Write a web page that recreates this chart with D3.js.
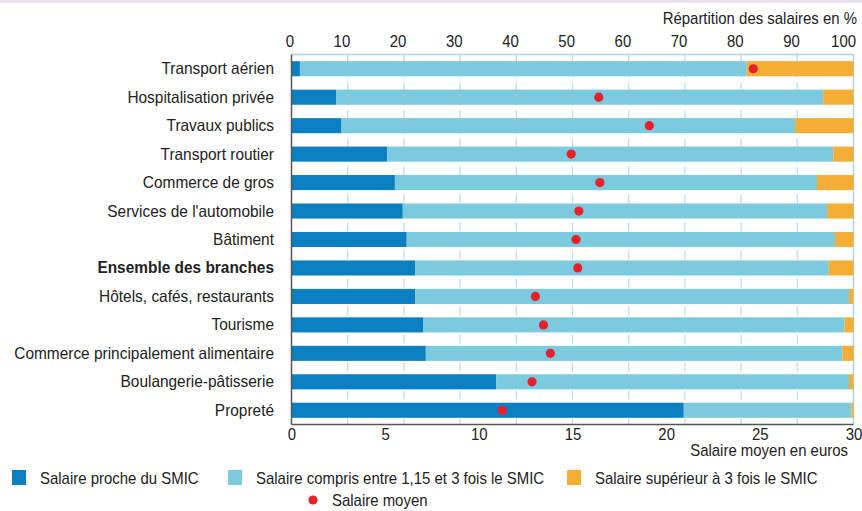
<!DOCTYPE html>
<html><head><meta charset="utf-8">
<script src="https://cdn.jsdelivr.net/npm/d3@7"></script>
<style>
html,body{margin:0;padding:0;background:#fff;}
svg{display:block;font-family:"Liberation Sans",Arial,Helvetica,sans-serif;}
</style></head>
<body><svg id="c" width="862" height="511"></svg>
<script>
const categories = ["Transport aérien","Hospitalisation privée","Travaux publics","Transport routier","Commerce de gros","Services de l'automobile","Bâtiment","Ensemble des branches","Hôtels, cafés, restaurants","Tourisme","Commerce principalement alimentaire","Boulangerie-pâtisserie","Propreté"];
const procheSmic = [1.5, 8.0, 8.9, 17.0, 18.4, 19.8, 20.5, 22.0, 22.0, 23.4, 23.9, 36.4, 69.8];
const entre115et3 = [79.5, 86.6, 80.7, 79.4, 75.1, 75.5, 76.2, 73.6, 77.2, 75.0, 74.1, 62.8, 29.8];
const superieur3 = [19.0, 5.4, 10.4, 3.6, 6.5, 4.7, 3.3, 4.4, 0.8, 1.6, 2.0, 0.8, 0.4];
const salaireMoyen = [24.65, 16.4, 19.1, 14.93, 16.46, 15.34, 15.19, 15.28, 13.02, 13.45, 13.82, 12.84, 11.25];
const pctTicks = [0,10,20,30,40,50,60,70,80,90,100];
const eurTicks = [0,5,10,15,20,25,30];
const seriesNames = ["Salaire proche du SMIC","Salaire compris entre 1,15 et 3 fois le SMIC","Salaire supérieur à 3 fois le SMIC"];
const boldCategory = "Ensemble des branches";

const colors = ["#0a7fc1","#7bcae0","#f4ae35"];
const red = "#e8202a";
const SX = 0.935;

const svg = d3.select("#c");
const L = 291.5, R = 853.5, T = 54.5, B = 424.5;

svg.append("rect").attr("x",0).attr("y",0).attr("width",862).attr("height",3).attr("fill","#e7e1ef");

const x = d3.scaleLinear().domain([0,100]).range([L,R]);
const xe = d3.scaleLinear().domain([0,30]).range([L,R]);
const y = d3.scaleBand().domain(categories).range([T,B]).paddingInner(0.47).paddingOuter(0.235);

// gridlines
svg.append("g").selectAll("line").data(pctTicks.slice(1,-1)).join("line")
  .attr("x1",d=>x(d)).attr("x2",d=>x(d)).attr("y1",T).attr("y2",B)
  .attr("stroke","#b6dbf1").attr("stroke-width",1.2).attr("stroke-dasharray","9,5");

// frame
svg.append("line").attr("x1",L).attr("x2",R).attr("y1",T).attr("y2",T).attr("stroke","#a9d3ef").attr("stroke-width",1.5);
svg.append("line").attr("x1",R).attr("x2",R).attr("y1",T).attr("y2",B).attr("stroke","#a9d3ef").attr("stroke-width",1.5);

// bars
const rows = categories.map((c,i)=>({cat:c, a:procheSmic[i], b:entre115et3[i], c2:superieur3[i]}));
const stack = d3.stack().keys(["a","b","c2"])(rows);
svg.append("g").selectAll("g").data(stack).join("g").attr("fill",(d,i)=>colors[i])
  .selectAll("rect").data(d=>d).join("rect")
  .attr("x",d=>x(d[0])).attr("width",d=>x(d[1])-x(d[0]))
  .attr("y",d=>y(d.data.cat)).attr("height",y.bandwidth());

// dots
svg.append("g").selectAll("circle").data(categories).join("circle")
  .attr("cx",(d,i)=>xe(salaireMoyen[i])).attr("cy",d=>y(d)+y.bandwidth()/2).attr("r",4.6).attr("fill",red);

// axes lines
svg.append("line").attr("x1",L).attr("x2",L).attr("y1",T).attr("y2",B).attr("stroke","#555").attr("stroke-width",1.5);
svg.append("line").attr("x1",L).attr("x2",R).attr("y1",B).attr("y2",B).attr("stroke","#555").attr("stroke-width",1.5);

// top axis (labels right-aligned on their tick)
const ax = svg.append("g").attr("transform",`translate(0,${T})`)
  .call(d3.axisTop(x).tickValues(pctTicks).tickSize(0).tickPadding(8).tickFormat(d3.format("d")));
ax.select(".domain").remove();
ax.selectAll("text").attr("font-size",16).attr("fill","#222").attr("font-family",null)
  .attr("text-anchor","end").attr("transform",`translate(2,0) scale(${SX},1)`);

// bottom axis
const bx = svg.append("g").attr("transform",`translate(0,${B})`)
  .call(d3.axisBottom(xe).tickValues(eurTicks).tickSize(0).tickPadding(4).tickFormat(d3.format("d")));
bx.select(".domain").remove();
bx.selectAll("text").attr("font-size",16).attr("fill","#222").attr("font-family",null).attr("transform",`scale(${SX},1)`);

function txt(s, px, py, anchor, size, weight){
  return svg.append("text").attr("transform",`translate(${px},${py}) scale(${SX},1)`)
    .attr("text-anchor",anchor).attr("font-size",size).attr("font-weight",weight||"normal").attr("fill","#222").text(s);
}
txt("Répartition des salaires en %", 857, 24, "end", 16);
txt("Salaire moyen en euros", 848, 456, "end", 16);

// category labels
categories.forEach(c=>{
  txt(c, 274, y(c)+y.bandwidth()/2+5.5, "end", 16.5, c===boldCategory?"bold":"normal");
});

// legend
const legX = [12, 228, 567];
seriesNames.forEach((s,i)=>{
  svg.append("rect").attr("x",legX[i]).attr("y",470).attr("width",14).attr("height",15).attr("fill",colors[i]);
  txt(s, legX[i]+28, 484, "start", 16);
});
svg.append("circle").attr("cx",313).attr("cy",500).attr("r",4.6).attr("fill",red);
txt("Salaire moyen", 332, 506, "start", 16);
</script></body></html>
